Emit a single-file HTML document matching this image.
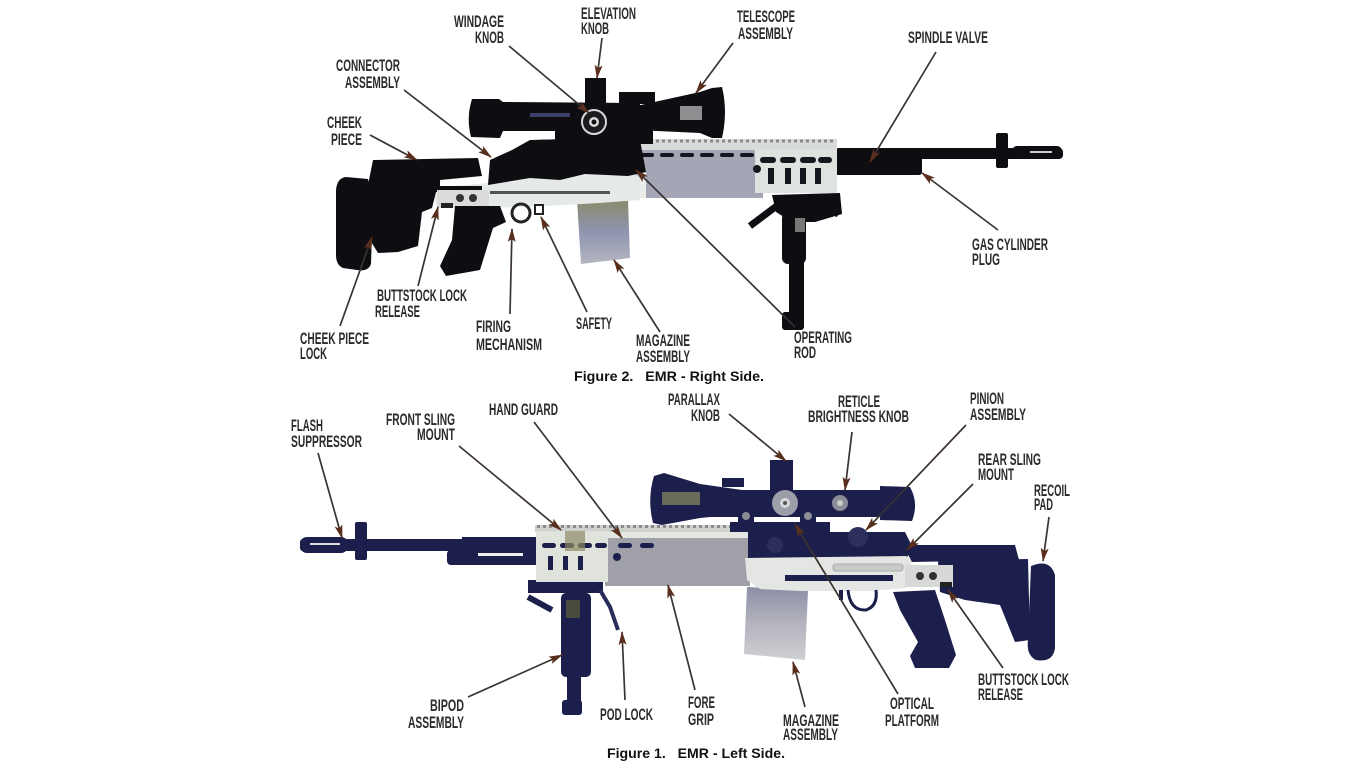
<!DOCTYPE html>
<html><head><meta charset="utf-8"><style>
html,body{margin:0;padding:0;background:#fff}
svg{display:block}
.l{font-family:"Liberation Sans Narrow","Liberation Sans",sans-serif;font-weight:bold;font-size:17px;fill:#2b2b2b}
.c{font-family:"Liberation Sans",sans-serif;font-weight:bold;font-size:14px;fill:#111}
.a{stroke:#3b3330;stroke-width:1.7;fill:none;marker-end:url(#ah)}
.k{fill:#0d0d12}
.n{fill:#1c1e4b}
</style></head><body>
<svg width="1366" height="768" viewBox="0 0 1366 768" xmlns="http://www.w3.org/2000/svg">
<defs>
<marker id="ah" viewBox="0 0 14 8" refX="13" refY="4" markerWidth="14" markerHeight="8" orient="auto" markerUnits="userSpaceOnUse">
<path d="M0,0 L14,4 L0,8 L3,4 Z" fill="#5a2e1c"/>
</marker>
<linearGradient id="mag1" x1="0" y1="0" x2="0" y2="1">
<stop offset="0" stop-color="#8a8b6c"/><stop offset="0.5" stop-color="#8f94b0"/><stop offset="1" stop-color="#b4b6c0"/>
</linearGradient>
<linearGradient id="mag2" x1="0" y1="0" x2="0" y2="1">
<stop offset="0" stop-color="#8c8ea6"/><stop offset="0.5" stop-color="#b3b4bd"/><stop offset="1" stop-color="#cfd0d4"/>
</linearGradient>
</defs>
<rect width="1366" height="768" fill="#fff"/>

<!-- ================= TOP RIFLE (right side) ================= -->
<rect class="k" x="835" y="148" width="228" height="11" rx="4"/>
<rect class="k" x="835" y="156" width="87" height="19" rx="3"/>
<rect class="k" x="996" y="133" width="12" height="35" rx="2"/>
<rect class="k" x="1012" y="146" width="50" height="13" rx="5"/>
<rect x="1030" y="151" width="22" height="2" fill="#ccc"/>
<!-- bipod -->
<path class="k" d="M772,195 L840,193 L842,214 L815,222 L792,222 L776,212 Z"/>
<path d="M750,226 L778,205" stroke="#0d0d12" stroke-width="7"/>
<path d="M820,205 L838,215" stroke="#0d0d12" stroke-width="5"/>
<rect class="k" x="782" y="212" width="24" height="52" rx="6"/>
<rect class="k" x="789" y="255" width="15" height="62"/>
<rect class="k" x="782" y="312" width="22" height="18" rx="3"/>
<rect x="795" y="218" width="10" height="14" fill="#777"/>
<!-- handguard -->
<rect x="630" y="139" width="207" height="11" fill="#d8dbd8"/>
<line x1="632" y1="141" x2="835" y2="141" stroke="#8a8a8a" stroke-width="3" stroke-dasharray="3 3"/>
<rect x="633" y="150" width="130" height="48" fill="#a4a6b6"/>
<rect x="755" y="150" width="82" height="43" fill="#dfe3df"/>
<g fill="#16161e">
<rect x="640" y="153" width="14" height="4" rx="2"/><rect x="660" y="153" width="14" height="4" rx="2"/><rect x="680" y="153" width="14" height="4" rx="2"/><rect x="700" y="153" width="14" height="4" rx="2"/><rect x="720" y="153" width="14" height="4" rx="2"/><rect x="740" y="153" width="14" height="4" rx="2"/>
<rect x="760" y="157" width="16" height="6" rx="3"/><rect x="780" y="157" width="16" height="6" rx="3"/><rect x="800" y="157" width="16" height="6" rx="3"/><rect x="818" y="157" width="14" height="6" rx="3"/>
<rect x="768" y="168" width="6" height="16"/><rect x="785" y="168" width="6" height="16"/><rect x="800" y="168" width="6" height="16"/><rect x="815" y="168" width="6" height="16"/>
<circle cx="757" cy="169" r="4"/>
</g>
<!-- magazine -->
<path d="M577,200 L628,200 L630,258 L581,264 Z" fill="url(#mag1)"/>
<!-- silver receiver -->
<path d="M432,188 L488,183 L495,171 L630,169 L640,178 L640,200 L600,203 L545,206 L490,208 L437,208 Z" fill="#e5e9e7"/>
<rect x="490" y="191" width="120" height="3" fill="#555"/>
<rect x="640" y="170" width="6" height="28" fill="#e9ece9"/>
<!-- upper receiver black -->
<path class="k" d="M488,185 L490,160 L512,150 L530,140 L605,138 L640,140 L646,172 L628,176 L585,174 L560,180 L530,178 Z"/>
<path class="k" d="M520,150 Q530,138 548,140 L560,150 Z"/>
<rect class="k" x="555" y="128" width="98" height="16"/>
<!-- stock -->
<path class="k" d="M373,160 L478,158 L482,176 L440,180 L440,186 L482,186 L482,192 L436,192 L432,208 L422,212 L418,246 L398,252 L378,253 L370,240 L368,185 Z"/>
<path class="k" d="M346,177 L368,179 L373,200 L371,264 Q368,272 357,270 L343,268 Q336,265 336,255 L336,190 Q337,178 346,177 Z"/>
<rect x="437" y="190" width="52" height="17" fill="#d9dcd9"/>
<circle cx="460" cy="198" r="4" fill="#333"/><circle cx="473" cy="198" r="4" fill="#333"/>
<rect x="441" y="203" width="12" height="5" fill="#222"/>
<!-- pistol grip -->
<path class="k" d="M455,206 L500,206 L506,222 L493,228 L480,270 L446,276 L440,266 L452,240 Z"/>
<!-- trigger guard & safety -->
<circle cx="521" cy="213" r="9" fill="none" stroke="#222" stroke-width="3"/>
<rect x="535" y="205" width="8" height="9" fill="none" stroke="#222" stroke-width="2"/>
<!-- scope top -->
<path class="k" d="M472,99 Q466,118 471,137 L500,138 L503,131 L640,131 L640,103 L503,102 L499,99 Z"/>
<path class="k" d="M636,106 L700,92 L712,88 L722,87 Q728,112 722,138 L712,138 L700,133 L636,130 Z"/>
<rect x="680" y="106" width="22" height="14" fill="#8e8e90"/>
<rect class="k" x="585" y="78" width="21" height="27"/>
<rect class="k" x="619" y="92" width="36" height="12"/>
<circle cx="594" cy="122" r="12" fill="#1a1a1f" stroke="#d9d9d9" stroke-width="2"/>
<circle cx="594" cy="122" r="5" fill="#d9d9d9"/><circle cx="594" cy="122" r="2.5" fill="#111"/>
<rect x="530" y="113" width="40" height="4" fill="#3a3f6a"/>

<!-- ================= BOTTOM RIFLE (left side) ================= -->
<rect class="n" x="300" y="539" width="240" height="12" rx="3"/>
<rect class="n" x="300" y="537" width="48" height="16" rx="7"/>
<rect x="310" y="543" width="30" height="2" fill="#ddd"/>
<rect class="n" x="355" y="522" width="12" height="38" rx="2"/>
<rect class="n" x="447" y="550" width="92" height="15" rx="4"/>
<rect class="n" x="462" y="537" width="78" height="28"/>
<rect x="478" y="553" width="45" height="3" fill="#eee"/>
<!-- bipod -->
<rect class="n" x="528" y="580" width="75" height="13"/>
<path d="M528,597 L552,610" stroke="#1c1e4b" stroke-width="6"/>
<rect class="n" x="561" y="593" width="30" height="84" rx="5"/>
<rect x="566" y="600" width="14" height="18" fill="#4a4a3c"/>
<rect class="n" x="567" y="660" width="14" height="50"/>
<rect class="n" x="562" y="700" width="20" height="15" rx="3"/>
<path d="M600,590 L610,607 L618,630" stroke="#2a2c5a" stroke-width="4" fill="none"/>
<!-- handguard -->
<rect x="535" y="525" width="215" height="7" fill="#cfd1ce"/>
<line x1="537" y1="526.5" x2="750" y2="526.5" stroke="#8c8c8c" stroke-width="3" stroke-dasharray="3 3"/>
<rect x="605" y="536" width="145" height="50" fill="#9fa0a8"/>
<rect x="536" y="531" width="72" height="51" fill="#dfe3dc"/>
<rect x="608" y="532" width="142" height="6" fill="#e3e6e1"/>
<g fill="#1c1e4b">
<rect x="542" y="543" width="14" height="5" rx="2.5"/><rect x="560" y="543" width="14" height="5" rx="2.5"/><rect x="578" y="543" width="14" height="5" rx="2.5"/><rect x="595" y="543" width="12" height="5" rx="2.5"/>
<rect x="618" y="543" width="14" height="5" rx="2.5"/><rect x="640" y="543" width="14" height="5" rx="2.5"/>
<rect x="548" y="556" width="5" height="14"/><rect x="563" y="556" width="5" height="14"/><rect x="578" y="556" width="5" height="14"/>
<circle cx="617" cy="557" r="4"/>
</g>
<rect x="565" y="531" width="20" height="20" fill="#8d8a62" opacity="0.7"/>
<!-- magazine -->
<path d="M747,587 L808,590 L805,660 L744,654 Z" fill="url(#mag2)"/>
<!-- receiver navy -->
<path class="n" d="M748,532 L905,532 L912,546 L906,560 L748,560 Z"/>
<circle cx="858" cy="537" r="10" fill="#2c2e5c"/>
<circle cx="775" cy="545" r="8" fill="#2c2e5c"/>
<!-- silver lower -->
<path d="M745,558 L906,556 L912,561 L906,588 L870,591 L800,591 L760,589 L747,580 Z" fill="#e3e6e2"/>
<rect x="833" y="564" width="70" height="7" rx="3" fill="#c8cbc8" stroke="#aaa" stroke-width="1"/>
<rect class="n" x="785" y="575" width="108" height="6"/>
<!-- stock -->
<path class="n" d="M905,549 L915,545 L1015,545 L1019,560 L912,562 Z"/>
<path class="n" d="M938,561 L1028,559 L1030,640 L1015,642 L1000,605 L965,600 L940,592 Z"/>
<path class="n" d="M1031,566 Q1050,558 1055,575 L1055,648 Q1053,663 1036,660 Q1026,655 1028,640 Z"/>
<rect x="905" y="565" width="48" height="22" fill="#d6d9d6"/>
<circle cx="920" cy="576" r="4" fill="#333"/><circle cx="933" cy="576" r="4" fill="#333"/>
<rect x="940" y="582" width="12" height="5" fill="#222"/>
<!-- pistol grip -->
<path class="n" d="M893,592 L935,590 L945,620 L956,655 L949,668 L915,668 L910,656 L918,642 L900,610 Z"/>
<!-- trigger guard -->
<path d="M848,590 Q850,611 866,610 Q878,606 876,590" fill="none" stroke="#1c1e4b" stroke-width="3"/>
<rect class="n" x="839" y="590" width="4" height="10"/>
<!-- scope bottom -->
<path class="n" d="M654,476 Q647,499 653,523 L662,525 L700,518 L742,514 L742,490 L700,484 L664,473 Z"/>
<rect x="662" y="492" width="42" height="13" fill="#6b6b5c"/>
<rect class="n" x="700" y="490" width="195" height="27"/>
<path class="n" d="M880,486 L910,487 Q919,503 912,521 L880,520 Z"/>
<rect class="n" x="770" y="460" width="23" height="32"/>
<rect class="n" x="722" y="478" width="22" height="9"/>
<rect class="n" x="738" y="508" width="16" height="18"/>
<rect class="n" x="800" y="508" width="16" height="18"/>
<circle cx="746" cy="516" r="4" fill="#8a8c96"/><circle cx="808" cy="516" r="4" fill="#8a8c96"/>
<rect class="n" x="730" y="522" width="100" height="10"/>
<circle cx="785" cy="503" r="13" fill="#9c9eaa"/><circle cx="785" cy="503" r="5" fill="#d8d8dc"/><circle cx="785" cy="503" r="2" fill="#555"/>
<circle cx="840" cy="503" r="8" fill="#8a8c98"/><circle cx="840" cy="503" r="3" fill="#ccc"/>

<!-- ================= ARROWS ================= -->
<g class="a">
<line x1="509" y1="46" x2="589" y2="113" class="a"/>
<line x1="602" y1="38" x2="597" y2="78" class="a"/>
<line x1="733" y1="43" x2="696" y2="93" class="a"/>
<line x1="404" y1="90" x2="491" y2="157" class="a"/>
<line x1="370" y1="135" x2="417" y2="160" class="a"/>
<line x1="936" y1="52" x2="870" y2="162" class="a"/>
<line x1="998" y1="230" x2="922" y2="173" class="a"/>
<line x1="795" y1="327" x2="636" y2="170" class="a"/>
<line x1="660" y1="332" x2="614" y2="260" class="a"/>
<line x1="587" y1="312" x2="541" y2="217" class="a"/>
<line x1="510" y1="314" x2="512" y2="229" class="a"/>
<line x1="418" y1="286" x2="438" y2="207" class="a"/>
<line x1="340" y1="326" x2="372" y2="237" class="a"/>

<line x1="318" y1="453" x2="342" y2="538" class="a"/>
<line x1="459" y1="446" x2="561" y2="530" class="a"/>
<line x1="534" y1="422" x2="622" y2="538" class="a"/>
<line x1="729" y1="414" x2="786" y2="461" class="a"/>
<line x1="852" y1="432" x2="845" y2="490" class="a"/>
<line x1="966" y1="425" x2="866" y2="530" class="a"/>
<line x1="973" y1="484" x2="907" y2="550" class="a"/>
<line x1="1049" y1="517" x2="1043" y2="561" class="a"/>
<line x1="1003" y1="668" x2="948" y2="590" class="a"/>
<line x1="898" y1="694" x2="795" y2="524" class="a"/>
<line x1="805" y1="707" x2="793" y2="662" class="a"/>
<line x1="695" y1="690" x2="668" y2="585" class="a"/>
<line x1="625" y1="700" x2="622" y2="632" class="a"/>
<line x1="468" y1="697" x2="562" y2="655" class="a"/>
</g>

<!-- ================= LABELS ================= -->
<g class="l">
<text x="454" y="27" textLength="50" lengthAdjust="spacingAndGlyphs">WINDAGE</text>
<text x="475" y="43" textLength="29" lengthAdjust="spacingAndGlyphs">KNOB</text>
<text x="581" y="19" textLength="55" lengthAdjust="spacingAndGlyphs">ELEVATION</text>
<text x="581" y="34" textLength="28" lengthAdjust="spacingAndGlyphs">KNOB</text>
<text x="737" y="22" textLength="58" lengthAdjust="spacingAndGlyphs">TELESCOPE</text>
<text x="738" y="39" textLength="55" lengthAdjust="spacingAndGlyphs">ASSEMBLY</text>
<text x="336" y="71" textLength="64" lengthAdjust="spacingAndGlyphs">CONNECTOR</text>
<text x="345" y="88" textLength="55" lengthAdjust="spacingAndGlyphs">ASSEMBLY</text>
<text x="327" y="128" textLength="35" lengthAdjust="spacingAndGlyphs">CHEEK</text>
<text x="331" y="145" textLength="31" lengthAdjust="spacingAndGlyphs">PIECE</text>
<text x="908" y="43" textLength="80" lengthAdjust="spacingAndGlyphs">SPINDLE VALVE</text>
<text x="972" y="250" textLength="76" lengthAdjust="spacingAndGlyphs">GAS CYLINDER</text>
<text x="972" y="265" textLength="28" lengthAdjust="spacingAndGlyphs">PLUG</text>
<text x="377" y="301" textLength="90" lengthAdjust="spacingAndGlyphs">BUTTSTOCK LOCK</text>
<text x="375" y="317" textLength="45" lengthAdjust="spacingAndGlyphs">RELEASE</text>
<text x="300" y="344" textLength="69" lengthAdjust="spacingAndGlyphs">CHEEK PIECE</text>
<text x="300" y="359" textLength="27" lengthAdjust="spacingAndGlyphs">LOCK</text>
<text x="476" y="332" textLength="35" lengthAdjust="spacingAndGlyphs">FIRING</text>
<text x="476" y="350" textLength="66" lengthAdjust="spacingAndGlyphs">MECHANISM</text>
<text x="576" y="329" textLength="36" lengthAdjust="spacingAndGlyphs">SAFETY</text>
<text x="636" y="346" textLength="54" lengthAdjust="spacingAndGlyphs">MAGAZINE</text>
<text x="636" y="362" textLength="54" lengthAdjust="spacingAndGlyphs">ASSEMBLY</text>
<text x="794" y="343" textLength="58" lengthAdjust="spacingAndGlyphs">OPERATING</text>
<text x="794" y="358" textLength="22" lengthAdjust="spacingAndGlyphs">ROD</text>

<text x="291" y="431" textLength="32" lengthAdjust="spacingAndGlyphs">FLASH</text>
<text x="291" y="447" textLength="71" lengthAdjust="spacingAndGlyphs">SUPPRESSOR</text>
<text x="386" y="425" textLength="69" lengthAdjust="spacingAndGlyphs">FRONT SLING</text>
<text x="417" y="440" textLength="38" lengthAdjust="spacingAndGlyphs">MOUNT</text>
<text x="489" y="415" textLength="69" lengthAdjust="spacingAndGlyphs">HAND GUARD</text>
<text x="668" y="405" textLength="52" lengthAdjust="spacingAndGlyphs">PARALLAX</text>
<text x="691" y="421" textLength="29" lengthAdjust="spacingAndGlyphs">KNOB</text>
<text x="838" y="407" textLength="42" lengthAdjust="spacingAndGlyphs">RETICLE</text>
<text x="808" y="422" textLength="101" lengthAdjust="spacingAndGlyphs">BRIGHTNESS KNOB</text>
<text x="970" y="404" textLength="34" lengthAdjust="spacingAndGlyphs">PINION</text>
<text x="970" y="420" textLength="56" lengthAdjust="spacingAndGlyphs">ASSEMBLY</text>
<text x="978" y="465" textLength="63" lengthAdjust="spacingAndGlyphs">REAR SLING</text>
<text x="978" y="480" textLength="36" lengthAdjust="spacingAndGlyphs">MOUNT</text>
<text x="1034" y="496" textLength="36" lengthAdjust="spacingAndGlyphs">RECOIL</text>
<text x="1034" y="510" textLength="19" lengthAdjust="spacingAndGlyphs">PAD</text>
<text x="978" y="685" textLength="91" lengthAdjust="spacingAndGlyphs">BUTTSTOCK LOCK</text>
<text x="978" y="700" textLength="45" lengthAdjust="spacingAndGlyphs">RELEASE</text>
<text x="890" y="709" textLength="44" lengthAdjust="spacingAndGlyphs">OPTICAL</text>
<text x="885" y="726" textLength="54" lengthAdjust="spacingAndGlyphs">PLATFORM</text>
<text x="783" y="726" textLength="56" lengthAdjust="spacingAndGlyphs">MAGAZINE</text>
<text x="783" y="740" textLength="55" lengthAdjust="spacingAndGlyphs">ASSEMBLY</text>
<text x="688" y="708" textLength="27" lengthAdjust="spacingAndGlyphs">FORE</text>
<text x="688" y="725" textLength="26" lengthAdjust="spacingAndGlyphs">GRIP</text>
<text x="600" y="720" textLength="53" lengthAdjust="spacingAndGlyphs">POD LOCK</text>
<text x="430" y="711" textLength="34" lengthAdjust="spacingAndGlyphs">BIPOD</text>
<text x="408" y="728" textLength="56" lengthAdjust="spacingAndGlyphs">ASSEMBLY</text>
</g>
<text class="c" x="574" y="381" textLength="190" lengthAdjust="spacingAndGlyphs" xml:space="preserve">Figure 2.   EMR - Right Side.</text>
<text class="c" x="607" y="758" textLength="178" lengthAdjust="spacingAndGlyphs" xml:space="preserve">Figure 1.   EMR - Left Side.</text>
</svg>
</body></html>
